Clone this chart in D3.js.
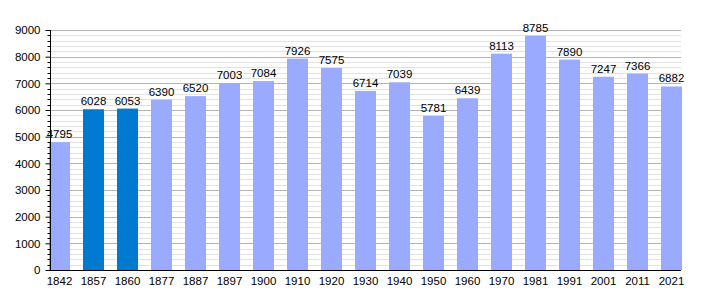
<!DOCTYPE html>
<html>
<head>
<meta charset="utf-8">
<script src="https://cdn.jsdelivr.net/npm/d3@7"></script>
<style>
  body { margin: 0; background: #fff; }
  text { font-family: "Liberation Sans", Arial, sans-serif; font-size: 11.5px; fill: #000; }
</style>
</head>
<body>
<svg id="chart" width="710" height="300"></svg>
<script>
// population by census year
const years = ["1842", "1857", "1860", "1877", "1887", "1897", "1900", "1910", "1920", "1930",
  "1940", "1950", "1960", "1970", "1981", "1991", "2001", "2011", "2021"];
const population = [4795, 6028, 6053, 6390, 6520, 7003, 7084, 7926, 7575, 6714,
  7039, 5781, 6439, 8113, 8785, 7890, 7247, 7366, 6882];
// years drawn in the darker blue
const highlighted = ["1857", "1860"];
const yTicks = [0, 1000, 2000, 3000, 4000, 5000, 6000, 7000, 8000, 9000];

const plotLeft = 50;
const plotRight = 681;
const plotTop = 30;
const plotBottom = 270;
const font = "Liberation Sans, Arial, sans-serif";

const svg = d3.select("#chart");

const x = d3.scaleBand()
  .domain(years)
  .range([49, 682])
  .paddingInner(13 / 34)
  .paddingOuter(0)
  .align(0);

const y = d3.scaleLinear()
  .domain([0, 9000])
  .range([plotBottom, plotTop]);

// grid, minor first then major
const minor = d3.range(0, 9001, 200).filter((d) => d % 1000 !== 0);
svg.append("g")
  .selectAll("line")
  .data(minor)
  .join("line")
  .attr("x1", plotLeft)
  .attr("x2", plotRight)
  .attr("y1", (d) => Math.round(y(d)) + 0.5)
  .attr("y2", (d) => Math.round(y(d)) + 0.5)
  .attr("stroke", "#e2e2e2");

svg.append("g")
  .selectAll("line")
  .data(yTicks)
  .join("line")
  .attr("x1", plotLeft)
  .attr("x2", plotRight)
  .attr("y1", (d) => Math.round(y(d)) + 0.5)
  .attr("y2", (d) => Math.round(y(d)) + 0.5)
  .attr("stroke", "#b4b4b4");

// bars
svg.append("g")
  .selectAll("rect")
  .data(years)
  .join("rect")
  .attr("x", (d) => x(d))
  .attr("y", (d, i) => y(population[i]))
  .attr("width", x.bandwidth())
  .attr("height", (d, i) => plotBottom - y(population[i]))
  .attr("fill", (d) => (highlighted.includes(d) ? "#0079d0" : "#99aaff"));

// value labels
svg.append("g")
  .selectAll("text")
  .data(years)
  .join("text")
  .attr("x", (d) => x(d) + x.bandwidth() / 2)
  .attr("y", (d, i) => y(population[i]) - 4)
  .attr("text-anchor", "middle")
  .text((d, i) => population[i]);

// y axis with minor ticks
const yAxis = d3.axisLeft(y)
  .tickValues(yTicks)
  .tickFormat(d3.format("d"))
  .tickSize(5)
  .tickPadding(5);
const yg = svg.append("g")
  .attr("transform", `translate(${plotLeft + 0.5},0)`)
  .call(yAxis);
yg.select(".domain").attr("d", `M0,${plotTop}V${plotBottom}`).attr("stroke", "#000");
yg.selectAll(".tick line").attr("stroke", "#000");
yg.selectAll(".tick text").style("font-size", "11.5px").style("font-family", font);
yg.append("g")
  .selectAll("line")
  .data(minor)
  .join("line")
  .attr("x1", -3)
  .attr("x2", 0)
  .attr("y1", (d) => Math.round(y(d)) + 0.5)
  .attr("y2", (d) => Math.round(y(d)) + 0.5)
  .attr("stroke", "#000");

// x axis
const xAxis = d3.axisBottom(x).tickSize(0).tickPadding(6);
const xg = svg.append("g")
  .attr("transform", `translate(0,${plotBottom + 0.5})`)
  .call(xAxis);
xg.select(".domain").attr("d", `M${plotLeft},0H${plotRight}`).attr("stroke", "#000");
xg.selectAll(".tick text").style("font-size", "11.5px").style("font-family", font);
</script>
</body>
</html>
